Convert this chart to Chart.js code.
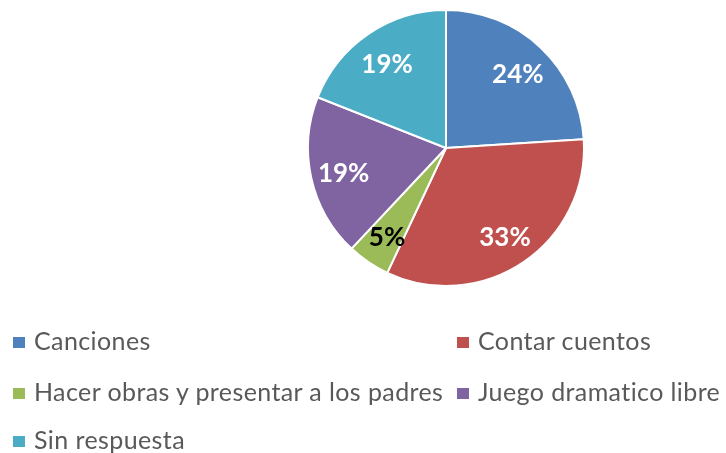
<!DOCTYPE html>
<html>
<head>
<meta charset="utf-8">
<script src="https://cdn.jsdelivr.net/npm/chart.js@4"></script>
<style>
  html, body { margin: 0; padding: 0; background: #fff; }
  #wrap { position: relative; width: 726px; height: 453px; overflow: hidden; }
  #chart { position: absolute; left: 0; top: 0; }
  .item { position: absolute; font-family: Lato, sans-serif; font-size: 25px; line-height: 25px; letter-spacing: 0.4px; font-variant-ligatures: none; color: #595959; white-space: nowrap; }
  .box { position: absolute; width: 12px; height: 11px; }
</style>
</head>
<body>
<div id="wrap">
  <canvas id="chart" width="726" height="453"></canvas>
  <div id="legend"></div>
</div>
<script>
const categories = ['Canciones', 'Contar cuentos', 'Hacer obras y presentar a los padres', 'Juego dramatico libre', 'Sin respuesta']
const percents = [24, 33, 5, 19, 19]
const colors = ['#4F81BD', '#C0504D', '#9BBB59', '#8064A2', '#4BACC6']
const labelColors = ['#ffffff', '#ffffff', '#000000', '#ffffff', '#ffffff']

// legend grid: column x, row baseline
const legendPos = [[13, 350], [457, 350], [13, 401], [457, 401], [13, 449]]
const legend = document.getElementById('legend')
categories.forEach((name, i) => {
  const [x, base] = legendPos[i]
  const box = document.createElement('div')
  box.className = 'box'
  box.style.left = x + 'px'
  box.style.top = (base - 13) + 'px'
  box.style.background = colors[i]
  legend.appendChild(box)
  const txt = document.createElement('div')
  txt.className = 'item'
  txt.style.left = (x + 21) + 'px'
  txt.style.top = (base - 22) + 'px'
  txt.textContent = name
  legend.appendChild(txt)
})

// percentage labels inside slices
const sliceLabels = {
  id: 'sliceLabels',
  afterDatasetsDraw(chart) {
    const ctx = chart.ctx
    const meta = chart.getDatasetMeta(0)
    ctx.save()
    ctx.font = 'bold 26px Lato, sans-serif'
    ctx.textAlign = 'center'
    ctx.textBaseline = 'middle'
    meta.data.forEach((arc, i) => {
      const p = arc.getProps(['x', 'y', 'startAngle', 'endAngle', 'outerRadius'], true)
      const mid = (p.startAngle + p.endAngle) / 2
      const r = p.outerRadius * 0.76
      ctx.fillStyle = labelColors[i]
      ctx.fillText(percents[i] + '%', p.x + Math.cos(mid) * r, p.y + Math.sin(mid) * r + 3)
    })
    ctx.restore()
  }
}

const data = {
  labels: categories,
  datasets: [
    {
      data: percents,
      backgroundColor: colors,
      borderColor: 'white',
      borderWidth: 2
    }
  ]
}
const config = {
  type: 'pie',
  data: data,
  plugins: [sliceLabels],
  options: {
    responsive: false,
    animation: false,
    layout: { padding: { left: 307, right: 141, top: 9, bottom: 166 } },
    plugins: {
      legend: { display: false },
      tooltip: { enabled: false }
    }
  }
}
new Chart(document.getElementById('chart'), config)
</script>
</body>
</html>
